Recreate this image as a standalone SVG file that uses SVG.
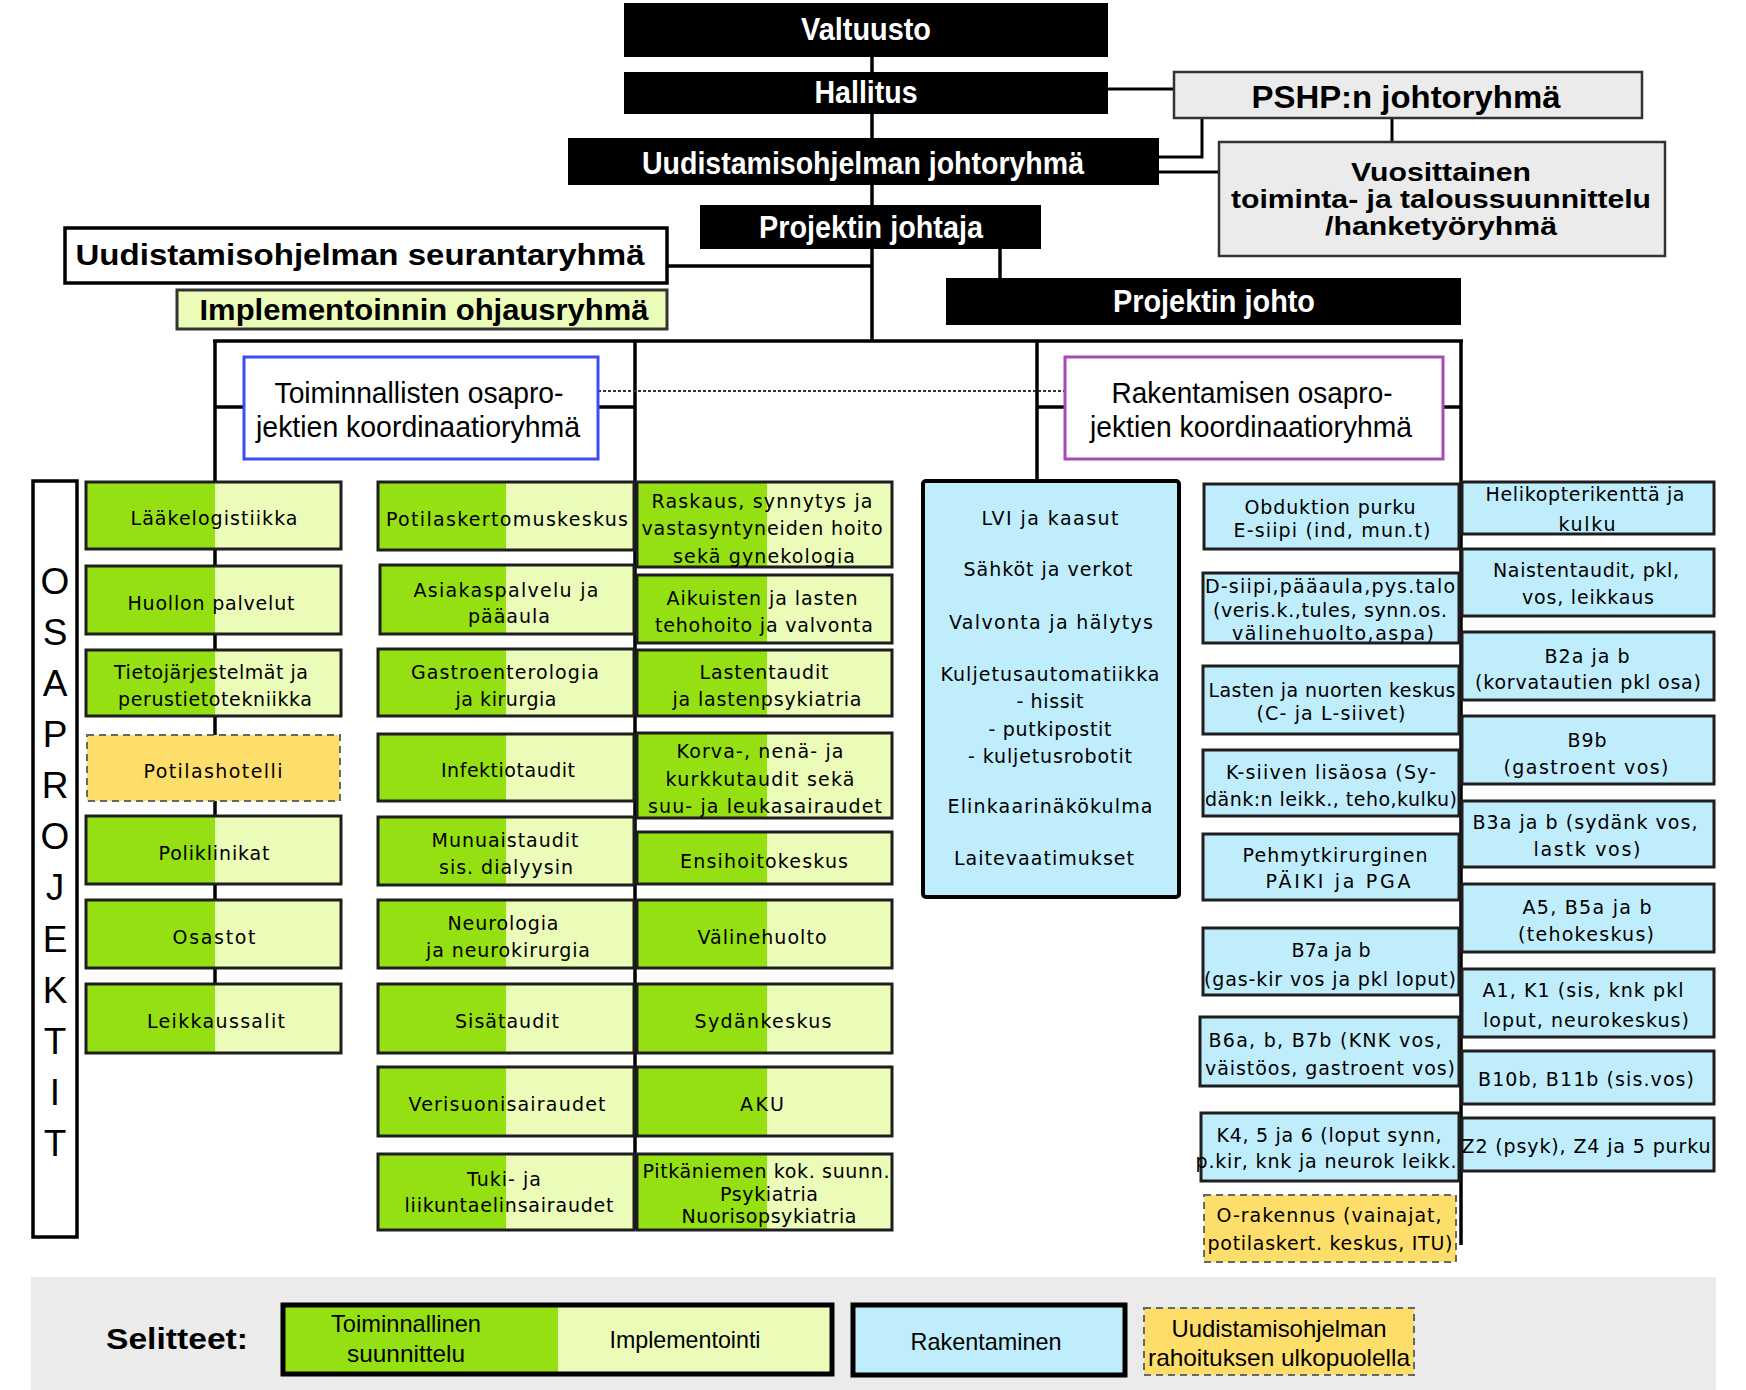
<svg xmlns="http://www.w3.org/2000/svg" width="1746" height="1390" viewBox="0 0 1746 1390">
<style>
.bk{fill:#000}
.wt{font-family:"Liberation Sans",Arial,sans-serif;font-weight:bold;fill:#fff;text-anchor:middle}
.bt{font-family:"Liberation Sans",Arial,sans-serif;font-weight:bold;fill:#000;text-anchor:middle}
.gr{fill:#ebebeb;stroke:#333;stroke-width:2.5}
.nar{font-family:"Liberation Sans Narrow","Liberation Sans",Arial,sans-serif;fill:#000;text-anchor:middle}
.gd{fill:#95e012}
.gl{fill:#eafcb8}
.ob{fill:none;stroke:#1e1e1e;stroke-width:3}
.lb{fill:#bfedfc;stroke:#1e1e1e;stroke-width:3}
.yd{fill:#fede6a;stroke:#666;stroke-width:2;stroke-dasharray:7,5}
.t{font-family:"DejaVu Sans",Verdana,sans-serif;font-size:19px;fill:#000;text-anchor:middle}
.ln{stroke:#000;stroke-width:3.5;fill:none}
.ln2{stroke:#000;stroke-width:3;fill:none}
.lg{font-family:"Liberation Sans Narrow","Liberation Sans",Arial,sans-serif;font-size:24px;fill:#000;text-anchor:middle}
.osa{font-family:"Liberation Sans",Arial,sans-serif;font-size:37px;fill:#000;text-anchor:middle}
</style>
<rect x="0" y="0" width="1746" height="1390" fill="#fff"/>

<g id="connectors">
<line class="ln" x1="872" y1="57" x2="872" y2="341"/>
<line class="ln2" x1="1108" y1="89" x2="1174" y2="89"/>
<polyline class="ln2" points="1159,157 1202,157 1202,118"/>
<line class="ln2" x1="1159" y1="172" x2="1219" y2="172"/>
<line class="ln2" x1="1392" y1="118" x2="1392" y2="142"/>
<line class="ln" x1="1000" y1="249" x2="1000" y2="278"/>
<line class="ln" x1="667" y1="266" x2="872" y2="266"/>
<line class="ln" x1="213" y1="341" x2="1463" y2="341"/>
<line class="ln" x1="215" y1="341" x2="215" y2="984"/>
<line class="ln" x1="635" y1="341" x2="635" y2="1230"/>
<line class="ln" x1="1037" y1="341" x2="1037" y2="481"/>
<line class="ln" x1="1461" y1="341" x2="1461" y2="1245"/>
<line class="ln" x1="215" y1="407" x2="244" y2="407"/>
<line class="ln" x1="598" y1="407" x2="635" y2="407"/>
<line class="ln" x1="1037" y1="407" x2="1065" y2="407"/>
<line class="ln" x1="1443" y1="407" x2="1461" y2="407"/>
<line x1="598" y1="391" x2="1065" y2="391" stroke="#333" stroke-width="2" stroke-dasharray="3,2"/>
</g>

<g id="n-valtuusto"><rect class="bk" x="624" y="3" width="484" height="54"/><text class="wt" x="866" y="40" font-size="31" textLength="130" lengthAdjust="spacingAndGlyphs">Valtuusto</text></g>
<g id="n-hallitus"><rect class="bk" x="624" y="72" width="484" height="42"/><text class="wt" x="866" y="103" font-size="31" textLength="103" lengthAdjust="spacingAndGlyphs">Hallitus</text></g>
<g id="n-johtoryhma"><rect class="bk" x="568" y="138" width="591" height="47"/><text class="wt" x="863" y="174" font-size="31" textLength="442" lengthAdjust="spacingAndGlyphs">Uudistamisohjelman johtoryhmä</text></g>
<g id="n-projektin-johtaja"><rect class="bk" x="700" y="205" width="341" height="44"/><text class="wt" x="871" y="238" font-size="31" textLength="224" lengthAdjust="spacingAndGlyphs">Projektin johtaja</text></g>
<g id="n-projektin-johto"><rect class="bk" x="946" y="278" width="515" height="47"/><text class="wt" x="1214" y="312" font-size="31" textLength="202" lengthAdjust="spacingAndGlyphs">Projektin johto</text></g>
<g id="n-pshp"><rect class="gr" x="1174" y="72" width="468" height="46"/><text class="bt" x="1406" y="108" font-size="32" textLength="309" lengthAdjust="spacingAndGlyphs">PSHP:n johtoryhmä</text></g>
<g id="n-vuosittainen"><rect class="gr" x="1219" y="142" width="446" height="114"/>
<text class="bt" x="1441" y="181" font-size="25" fill="#1a0d0d" textLength="180" lengthAdjust="spacingAndGlyphs">Vuosittainen</text>
<text class="bt" x="1441" y="208" font-size="25" fill="#1a0d0d" textLength="420" lengthAdjust="spacingAndGlyphs">toiminta- ja taloussuunnittelu</text>
<text class="bt" x="1441" y="235" font-size="25" fill="#1a0d0d" textLength="232" lengthAdjust="spacingAndGlyphs">/hanketyöryhmä</text></g>
<g id="n-seuranta"><rect x="65" y="228" width="602" height="55" fill="#fff" stroke="#000" stroke-width="3.5"/><text class="bt" x="360" y="265" font-size="30" textLength="569" lengthAdjust="spacingAndGlyphs">Uudistamisohjelman seurantaryhmä</text></g>
<g id="n-ohjaus"><rect x="177" y="290" width="490" height="39" fill="#eafcb8" stroke="#333" stroke-width="3"/><text class="bt" x="424" y="320" font-size="30" textLength="449" lengthAdjust="spacingAndGlyphs">Implementoinnin ohjausryhmä</text></g>
<g id="n-toim-koord"><rect x="244" y="357" width="354" height="102" fill="#fff" stroke="#3b4cf0" stroke-width="3"/>
<text class="nar" x="419" y="403" font-size="30" textLength="289" lengthAdjust="spacingAndGlyphs">Toiminnallisten osapro-</text>
<text class="nar" x="418" y="437" font-size="30" textLength="324" lengthAdjust="spacingAndGlyphs">jektien koordinaatioryhmä</text></g>
<g id="n-rak-koord"><rect x="1065" y="357" width="378" height="102" fill="#fff" stroke="#a64ab5" stroke-width="3"/>
<text class="nar" x="1252" y="403" font-size="30" textLength="281" lengthAdjust="spacingAndGlyphs">Rakentamisen osapro-</text>
<text class="nar" x="1251" y="437" font-size="30" textLength="322" lengthAdjust="spacingAndGlyphs">jektien koordinaatioryhmä</text></g>

<g id="n-osaprojektit"><rect x="33" y="481" width="44" height="756" fill="#fff" stroke="#000" stroke-width="3.5"/>
<text class="osa" x="55" y="594">O</text><text class="osa" x="55" y="645">S</text><text class="osa" x="55" y="696">A</text><text class="osa" x="55" y="747">P</text><text class="osa" x="55" y="798">R</text><text class="osa" x="55" y="849">O</text><text class="osa" x="55" y="900">J</text><text class="osa" x="55" y="952">E</text><text class="osa" x="55" y="1003">K</text><text class="osa" x="55" y="1054">T</text><text class="osa" x="55" y="1105">I</text><text class="osa" x="55" y="1156">T</text></g>

<!-- left column -->
<g id="n-laakelogistiikka"><rect class="gd" x="86" y="482" width="129" height="67"/><rect class="gl" x="215" y="482" width="126" height="67"/><rect class="ob" x="86" y="482" width="255" height="67"/><text class="t" x="214" y="525" textLength="167">Lääkelogistiikka</text></g>
<g id="n-huollon"><rect class="gd" x="86" y="566" width="129" height="68"/><rect class="gl" x="215" y="566" width="126" height="68"/><rect class="ob" x="86" y="566" width="255" height="68"/><text class="t" x="211" y="609.5" textLength="167">Huollon palvelut</text></g>
<g id="n-tieto"><rect class="gd" x="86" y="650" width="129" height="66"/><rect class="gl" x="215" y="650" width="126" height="66"/><rect class="ob" x="86" y="650" width="255" height="66"/><text class="t" x="211" y="679" textLength="194">Tietojärjestelmät ja</text><text class="t" x="215" y="705.5" textLength="194">perustietotekniikka</text></g>
<g id="n-potilashotelli"><rect class="yd" x="87" y="735" width="253" height="66"/><text class="t" x="213" y="777.5" textLength="139">Potilashotelli</text></g>
<g id="n-poliklinikat"><rect class="gd" x="86" y="816" width="129" height="68"/><rect class="gl" x="215" y="816" width="126" height="68"/><rect class="ob" x="86" y="816" width="255" height="68"/><text class="t" x="214" y="859.5" textLength="111">Poliklinikat</text></g>
<g id="n-osastot"><rect class="gd" x="86" y="900" width="129" height="68"/><rect class="gl" x="215" y="900" width="126" height="68"/><rect class="ob" x="86" y="900" width="255" height="68"/><text class="t" x="214" y="943.5" textLength="83">Osastot</text></g>
<g id="n-leikkaussalit"><rect class="gd" x="86" y="984" width="129" height="69"/><rect class="gl" x="215" y="984" width="126" height="69"/><rect class="ob" x="86" y="984" width="255" height="69"/><text class="t" x="216" y="1028" textLength="138">Leikkaussalit</text></g>

<!-- middle-left column -->
<g id="n-potilaskertomus"><rect class="gd" x="378" y="482" width="128" height="68"/><rect class="gl" x="506" y="482" width="128" height="68"/><rect class="ob" x="378" y="482" width="256" height="68"/><text class="t" x="507" y="525.5" textLength="242">Potilaskertomuskeskus</text></g>
<g id="n-asiakaspalvelu"><rect class="gd" x="380" y="565" width="126" height="69"/><rect class="gl" x="506" y="565" width="128" height="69"/><rect class="ob" x="380" y="565" width="254" height="69"/><text class="t" x="506" y="596.5" textLength="185">Asiakaspalvelu ja</text><text class="t" x="509" y="622.5" textLength="82">pääaula</text></g>
<g id="n-gastro"><rect class="gd" x="378" y="649" width="128" height="67"/><rect class="gl" x="506" y="649" width="128" height="67"/><rect class="ob" x="378" y="649" width="256" height="67"/><text class="t" x="505" y="679" textLength="188">Gastroenterologia</text><text class="t" x="506" y="705.5" textLength="101">ja kirurgia</text></g>
<g id="n-infektio"><rect class="gd" x="378" y="734" width="128" height="67"/><rect class="gl" x="506" y="734" width="128" height="67"/><rect class="ob" x="378" y="734" width="256" height="67"/><text class="t" x="508" y="777" textLength="134">Infektiotaudit</text></g>
<g id="n-munuais"><rect class="gd" x="378" y="817" width="128" height="68"/><rect class="gl" x="506" y="817" width="128" height="68"/><rect class="ob" x="378" y="817" width="256" height="68"/><text class="t" x="505" y="847" textLength="147">Munuaistaudit</text><text class="t" x="506" y="874" textLength="134">sis. dialyysin</text></g>
<g id="n-neurologia"><rect class="gd" x="378" y="900" width="128" height="68"/><rect class="gl" x="506" y="900" width="128" height="68"/><rect class="ob" x="378" y="900" width="256" height="68"/><text class="t" x="503" y="930" textLength="111">Neurologia</text><text class="t" x="508" y="957" textLength="164">ja neurokirurgia</text></g>
<g id="n-sisataudit"><rect class="gd" x="378" y="984" width="128" height="69"/><rect class="gl" x="506" y="984" width="128" height="69"/><rect class="ob" x="378" y="984" width="256" height="69"/><text class="t" x="507" y="1028" textLength="104">Sisätaudit</text></g>
<g id="n-verisuoni"><rect class="gd" x="378" y="1067" width="128" height="69"/><rect class="gl" x="506" y="1067" width="128" height="69"/><rect class="ob" x="378" y="1067" width="256" height="69"/><text class="t" x="507" y="1111" textLength="197">Verisuonisairaudet</text></g>
<g id="n-tuki"><rect class="gd" x="378" y="1154" width="128" height="76"/><rect class="gl" x="506" y="1154" width="128" height="76"/><rect class="ob" x="378" y="1154" width="256" height="76"/><text class="t" x="504" y="1186" textLength="74">Tuki- ja</text><text class="t" x="509" y="1212" textLength="209">liikuntaelinsairaudet</text></g>

<!-- middle-right column -->
<g id="n-raskaus"><rect class="gd" x="637" y="482" width="130" height="85"/><rect class="gl" x="767" y="482" width="125" height="85"/><rect class="ob" x="637" y="482" width="255" height="85"/><text class="t" x="762" y="507.5" textLength="221">Raskaus, synnytys ja</text><text class="t" x="762" y="535" textLength="241">vastasyntyneiden hoito</text><text class="t" x="764" y="563" textLength="182">sekä gynekologia</text></g>
<g id="n-aikuisten"><rect class="gd" x="637" y="575" width="130" height="68"/><rect class="gl" x="767" y="575" width="125" height="68"/><rect class="ob" x="637" y="575" width="255" height="68"/><text class="t" x="762" y="605" textLength="191">Aikuisten ja lasten</text><text class="t" x="764" y="632" textLength="218">tehohoito ja valvonta</text></g>
<g id="n-lastentaudit"><rect class="gd" x="637" y="650" width="130" height="66"/><rect class="gl" x="767" y="650" width="125" height="66"/><rect class="ob" x="637" y="650" width="255" height="66"/><text class="t" x="764" y="679" textLength="129">Lastentaudit</text><text class="t" x="767" y="705.5" textLength="189">ja lastenpsykiatria</text></g>
<g id="n-korva"><rect class="gd" x="637" y="733" width="130" height="85"/><rect class="gl" x="767" y="733" width="125" height="85"/><rect class="ob" x="637" y="733" width="255" height="85"/><text class="t" x="760" y="757.5" textLength="167">Korva-, nenä- ja</text><text class="t" x="760" y="786" textLength="189">kurkkutaudit sekä</text><text class="t" x="765" y="812.5" textLength="234">suu- ja leukasairaudet</text></g>
<g id="n-ensihoito"><rect class="gd" x="637" y="832" width="130" height="52"/><rect class="gl" x="767" y="832" width="125" height="52"/><rect class="ob" x="637" y="832" width="255" height="52"/><text class="t" x="764" y="868" textLength="168">Ensihoitokeskus</text></g>
<g id="n-valinehuolto"><rect class="gd" x="637" y="900" width="130" height="68"/><rect class="gl" x="767" y="900" width="125" height="68"/><rect class="ob" x="637" y="900" width="255" height="68"/><text class="t" x="762" y="943.5" textLength="129">Välinehuolto</text></g>
<g id="n-sydankeskus"><rect class="gd" x="637" y="984" width="130" height="69"/><rect class="gl" x="767" y="984" width="125" height="69"/><rect class="ob" x="637" y="984" width="255" height="69"/><text class="t" x="763" y="1028" textLength="137">Sydänkeskus</text></g>
<g id="n-aku"><rect class="gd" x="637" y="1067" width="130" height="69"/><rect class="gl" x="767" y="1067" width="125" height="69"/><rect class="ob" x="637" y="1067" width="255" height="69"/><text class="t" x="762" y="1111" textLength="44">AKU</text></g>
<g id="n-pitkaniemi"><rect class="gd" x="637" y="1154" width="130" height="76"/><rect class="gl" x="767" y="1154" width="125" height="76"/><rect class="ob" x="637" y="1154" width="255" height="76"/><text class="t" x="766" y="1178" textLength="247">Pitkäniemen kok. suunn.</text><text class="t" x="769" y="1201" textLength="98">Psykiatria</text><text class="t" x="769" y="1223" textLength="175">Nuorisopsykiatria</text></g>

<!-- LVI -->
<g id="n-lvi"><rect x="923" y="481" width="256" height="416" fill="#bfedfc" stroke="#000" stroke-width="4" rx="3"/>
<text class="t" x="1050" y="525" textLength="137">LVI ja kaasut</text>
<text class="t" x="1048" y="576" textLength="169">Sähköt ja verkot</text>
<text class="t" x="1051" y="629" textLength="204">Valvonta ja hälytys</text>
<text class="t" x="1050" y="681" textLength="219">Kuljetusautomatiikka</text>
<text class="t" x="1050" y="708" textLength="67">- hissit</text>
<text class="t" x="1050" y="736" textLength="123">- putkipostit</text>
<text class="t" x="1050" y="763" textLength="164">- kuljetusrobotit</text>
<text class="t" x="1050" y="813" textLength="205">Elinkaarinäkökulma</text>
<text class="t" x="1044" y="865" textLength="180">Laitevaatimukset</text></g>

<!-- column 4 -->
<g id="n-obduktion"><rect class="lb" x="1204" y="484" width="255" height="65"/><text class="t" x="1330" y="513.5" textLength="171">Obduktion purku</text><text class="t" x="1332" y="537" textLength="197">E-siipi (ind, mun.t)</text></g>
<g id="n-dsiipi"><rect class="lb" x="1203" y="573" width="256" height="70"/><text class="t" x="1330" y="593" textLength="250">D-siipi,pääaula,pys.talo</text><text class="t" x="1330" y="617" textLength="234">(veris.k.,tules, synn.os.</text><text class="t" x="1333" y="639.5" textLength="202">välinehuolto,aspa)</text></g>
<g id="n-lasten-nuorten"><rect class="lb" x="1203" y="666" width="256" height="68"/><text class="t" x="1332" y="696.5" textLength="247">Lasten ja nuorten keskus</text><text class="t" x="1331" y="720" textLength="149">(C- ja L-siivet)</text></g>
<g id="n-ksiiven"><rect class="lb" x="1203" y="750" width="256" height="66"/><text class="t" x="1331" y="779" textLength="210">K-siiven lisäosa (Sy-</text><text class="t" x="1331" y="805.5" textLength="252">dänk:n leikk., teho,kulku)</text></g>
<g id="n-pehmyt"><rect class="lb" x="1203" y="834" width="256" height="66"/><text class="t" x="1335" y="862" textLength="185">Pehmytkirurginen</text><text class="t" x="1338" y="888" textLength="145">PÄIKI ja PGA</text></g>
<g id="n-b7a"><rect class="lb" x="1203" y="928" width="256" height="67"/><text class="t" x="1331" y="957" textLength="79">B7a ja b</text><text class="t" x="1330" y="986" textLength="252">(gas-kir vos ja pkl loput)</text></g>
<g id="n-b6a"><rect class="lb" x="1200" y="1017" width="259" height="69"/><text class="t" x="1325" y="1047" textLength="233">B6a, b, B7b (KNK vos,</text><text class="t" x="1330" y="1075" textLength="250">väistöos, gastroent vos)</text></g>
<g id="n-k4"><rect class="lb" x="1201" y="1113" width="258" height="68"/><text class="t" x="1329" y="1141.5" textLength="225">K4, 5 ja 6 (loput synn,</text><text class="t" x="1326" y="1168" textLength="261">p.kir, knk ja neurok leikk.</text></g>
<g id="n-orakennus"><rect class="yd" x="1204" y="1195" width="252" height="67"/><text class="t" x="1329" y="1221.5" textLength="225">O-rakennus (vainajat,</text><text class="t" x="1330" y="1250" textLength="245">potilaskert. keskus, ITU)</text></g>

<!-- column 5 -->
<g id="n-helikopteri"><rect class="lb" x="1462" y="482" width="252" height="52"/><text class="t" x="1585" y="501" textLength="199">Helikopterikenttä ja</text><text class="t" x="1587" y="530.5" textLength="57">kulku</text></g>
<g id="n-naisten"><rect class="lb" x="1462" y="549" width="252" height="67"/><text class="t" x="1586" y="577" textLength="186">Naistentaudit, pkl,</text><text class="t" x="1588" y="604" textLength="132">vos, leikkaus</text></g>
<g id="n-b2a"><rect class="lb" x="1462" y="632" width="252" height="68"/><text class="t" x="1587" y="663" textLength="85">B2a ja b</text><text class="t" x="1588" y="688.5" textLength="226">(korvatautien pkl osa)</text></g>
<g id="n-b9b"><rect class="lb" x="1462" y="716" width="252" height="68"/><text class="t" x="1587" y="746.5" textLength="39">B9b</text><text class="t" x="1586" y="773.5" textLength="165">(gastroent vos)</text></g>
<g id="n-b3a"><rect class="lb" x="1462" y="801" width="252" height="66"/><text class="t" x="1585" y="829" textLength="225">B3a ja b (sydänk vos,</text><text class="t" x="1587" y="856" textLength="107">lastk vos)</text></g>
<g id="n-a5"><rect class="lb" x="1462" y="884" width="252" height="68"/><text class="t" x="1587" y="913.5" textLength="129">A5, B5a ja b</text><text class="t" x="1586" y="940.5" textLength="136">(tehokeskus)</text></g>
<g id="n-a1"><rect class="lb" x="1462" y="969" width="252" height="68"/><text class="t" x="1583" y="996.5" textLength="201">A1, K1 (sis, knk pkl</text><text class="t" x="1586" y="1026.5" textLength="206">loput, neurokeskus)</text></g>
<g id="n-b10b"><rect class="lb" x="1462" y="1051" width="252" height="53"/><text class="t" x="1586" y="1086" textLength="216">B10b, B11b (sis.vos)</text></g>
<g id="n-z2"><rect class="lb" x="1462" y="1118" width="252" height="53"/><text class="t" x="1586" y="1153" textLength="249">Z2 (psyk), Z4 ja 5 purku</text></g>

<!-- legend -->
<g id="legend">
<rect x="31" y="1277" width="1685" height="113" fill="#ebebeb"/>
<text class="bt" x="177" y="1349" font-size="30" textLength="142" lengthAdjust="spacingAndGlyphs">Selitteet:</text>
<rect class="gd" x="283" y="1305" width="275" height="69"/><rect class="gl" x="558" y="1305" width="274" height="69"/><rect x="283" y="1305" width="549" height="69" fill="none" stroke="#000" stroke-width="5"/>
<text class="lg" x="406" y="1332" textLength="150" lengthAdjust="spacingAndGlyphs">Toiminnallinen</text>
<text class="lg" x="406" y="1362" textLength="118" lengthAdjust="spacingAndGlyphs">suunnittelu</text>
<text class="lg" x="685" y="1348" textLength="151" lengthAdjust="spacingAndGlyphs">Implementointi</text>
<rect x="853" y="1305" width="272" height="70" fill="#bfedfc" stroke="#000" stroke-width="5"/>
<text class="lg" x="986" y="1350" textLength="151" lengthAdjust="spacingAndGlyphs">Rakentaminen</text>
<rect class="yd" x="1144" y="1308" width="270" height="67"/>
<text class="lg" x="1279" y="1337" textLength="215" lengthAdjust="spacingAndGlyphs">Uudistamisohjelman</text>
<text class="lg" x="1279" y="1366" textLength="262" lengthAdjust="spacingAndGlyphs">rahoituksen ulkopuolella</text>
</g>
</svg>
